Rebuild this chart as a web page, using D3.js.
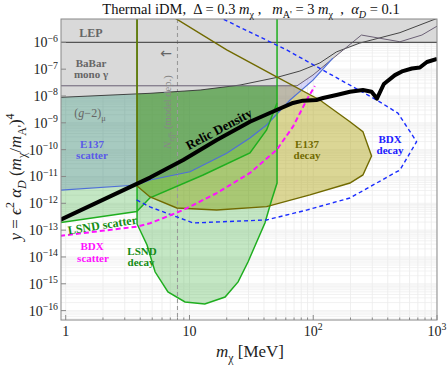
<!DOCTYPE html>
<html>
<head>
<meta charset="utf-8">
<script src="https://cdn.jsdelivr.net/npm/d3@7"></script>
<style>
  body { margin: 0; background: #fff; }
  svg { font-family: "Liberation Serif", "DejaVu Serif", serif; }
  text { white-space: pre; }
</style>
</head>
<body>
<svg id="chart" width="447" height="365"></svg>
<script>
// ---- data (mass in MeV, y = eps^2 alpha_D (m_chi/m_A')^4) ----
const xTicks = [1, 10, 100, 1000];
const xTickExp = ['', '', '2', '3'];
const yTicks = [1e-6, 1e-7, 1e-8, 1e-9, 1e-10, 1e-11, 1e-12, 1e-13, 1e-14, 1e-15, 1e-16];
const yTickExp = ['−6', '−7', '−8', '−9', '−10', '−11', '−12', '−13', '−14', '−15', '−16'];

const relic = [[0.9, 2.4e-13], [4.8, 9.1e-12], [8.9, 4.1e-11], [16.6, 2.3e-10], [30.8, 1.1e-9],
  [50.6, 3.0e-9], [68.6, 5.5e-9], [82.6, 6.7e-9], [106, 7.1e-9], [120, 8.4e-9], [154, 1.09e-8],
  [198, 1.44e-8], [252, 1.67e-8], [296, 1.44e-8], [327, 8.0e-9], [372, 2.8e-8], [457, 6.0e-8],
  [530, 8.5e-8], [627, 1.06e-7], [727, 1.15e-7], [829, 1.85e-7], [1000, 2.4e-7]];

const e137Scatter = [[0.9, 3.1e-12], [3.77, 4.8e-12], [4.8, 7.4e-12], [10.1, 1.5e-11], [20, 7.3e-11],
  [30.8, 2.7e-10], [42, 8.3e-10], [65, 7.1e-9], [99.5, 3.9e-8], [144, 2.6e-7]];

const lsndScatter = [[0.9, 1.9e-13], [3.75, 4.9e-13], [4.8, 1.6e-12], [12.9, 1.14e-11], [30.8, 7.5e-11],
  [42, 5.4e-10], [51, 5.5e-9]];

const lsndDecay = [[3.77, 1e-5], [51, 1e-5], [51, 5.7e-12], [46.1, 1.33e-12], [40.7, 1.85e-13],
  [34.9, 3.6e-14], [29.7, 6.5e-15], [24.7, 1.18e-15], [19.4, 3.2e-16], [13.3, 1.78e-16], [9.2, 2.1e-16],
  [6.7, 5.0e-16], [5.27, 2.8e-15], [4.54, 2.8e-14], [3.77, 1.7e-13]];

const e137Decay = [[3.77, 1e-5], [3.77, 4.4e-12], [4.8, 1.72e-12], [7.9, 6.7e-13], [16.6, 5.6e-13],
  [42, 7.5e-13], [94, 2.05e-12], [198, 5.7e-12], [252, 1.14e-11], [296, 5.8e-11], [252, 4.7e-10],
  [198, 1.1e-9], [113, 7.1e-9], [50.6, 5.2e-8], [20, 5.2e-7], [7.64, 8.0e-6], [7.1, 1e-5]];

const bdxDecay = [[3.74, 1.33e-12], [4.8, 7.3e-13], [10.7, 1.85e-13], [42, 2.4e-13], [88.5, 5.6e-13],
  [198, 1.58e-12], [502, 1.75e-11], [684, 1.98e-10], [483, 2.3e-9], [325, 7.1e-9], [61, 5.2e-7],
  [18.2, 7.8e-6], [17, 1e-5]];

const bdxScatter = [[0.9, 6.1e-14], [3.75, 1.35e-13], [4.8, 1.8e-13], [8.9, 5.6e-13], [16.6, 2.4e-12],
  [30.8, 1.35e-11], [50.6, 9.7e-11], [68.6, 7.2e-10], [88.5, 7.1e-9], [103, 2.35e-8]];

const g2Curve = [[0.9, 8.9e-9], [4.8, 1.26e-8], [12.2, 1.67e-8], [25.6, 2.56e-8], [50.6, 4.9e-8],
  [78, 8.5e-8], [113, 1.7e-7], [154, 4.4e-7], [238, 9.4e-7], [502, 2.3e-6], [1000, 7.8e-6]];

const babar = [[0.9, 2.4e-8], [74, 2.4e-8], [99.5, 6.05e-8], [144, 2.5e-7], [245, 1.87e-6],
  [502, 1.05e-6], [755, 1.87e-6], [1000, 4.0e-6]];

const lepLimit = 1e-6;
const neffMass = 8;
const TOP = 1e-5, LEFT = 0.9, RIGHT = 1000;

// ---- setup ----
const L = 61, R = 437, T = 19, B = 320;
const x = d3.scaleLog().domain([0.916, 1000]).range([L, R]);
const y = d3.scaleLog().domain([4.47e-17, 7.41e-6]).range([B, T]);
const svg = d3.select('#chart');

svg.append('defs').append('clipPath').attr('id', 'clip')
  .append('rect').attr('x', L).attr('y', T).attr('width', R - L).attr('height', B - T);

const line = d3.line().x(d => x(d[0])).y(d => y(d[1]));
const closeTop = pts => pts.concat([[pts[pts.length - 1][0], TOP], [LEFT, TOP]]);

const plot = svg.append('g').attr('clip-path', 'url(#clip)');

// grid
const gx = [], gy = [];
for (let d = 1; d <= 1000; d *= 10) for (let m = 1; m < 10; m++) gx.push(m * d);
for (let e = -17; e <= -6; e++) for (let m = 1; m < 10; m++) gy.push(m * Math.pow(10, e));
plot.selectAll('.gx').data(gx).enter().append('line')
  .attr('x1', d => x(d)).attr('x2', d => x(d)).attr('y1', T).attr('y2', B)
  .attr('stroke', '#e8e8e8').attr('stroke-width', 0.7);
plot.selectAll('.gy').data(gy).enter().append('line')
  .attr('y1', d => y(d)).attr('y2', d => y(d)).attr('x1', L).attr('x2', R)
  .attr('stroke', '#ededed').attr('stroke-width', 0.7);

// translucent fills (olive underneath so overlaps read green)
plot.append('path').attr('d', line(e137Decay) + 'Z')
  .attr('fill', 'rgb(175,165,20)').attr('fill-opacity', 0.45);
plot.append('path').attr('d', line(closeTop(e137Scatter)) + 'Z')
  .attr('fill', 'rgb(100,100,235)').attr('fill-opacity', 0.25);
plot.append('path').attr('d', line(closeTop(lsndScatter)) + 'Z')
  .attr('fill', 'rgb(20,160,20)').attr('fill-opacity', 0.25);
plot.append('path').attr('d', line(lsndDecay) + 'Z')
  .attr('fill', 'rgb(20,160,20)').attr('fill-opacity', 0.25);

// gray excluded regions
plot.append('path').attr('d', line(closeTop(g2Curve)) + 'Z').attr('fill', '#d9d9d9');
plot.append('path').attr('d', line(closeTop(babar)) + 'Z').attr('fill', '#d9d9d9');
plot.append('path').attr('d', line([[LEFT, lepLimit], [RIGHT, lepLimit], [RIGHT, TOP], [LEFT, TOP]]) + 'Z')
  .attr('fill', '#d9d9d9');

// lines
plot.append('line').attr('x1', x(neffMass)).attr('x2', x(neffMass)).attr('y1', T).attr('y2', B)
  .attr('stroke', '#999').attr('stroke-width', 1.1).attr('stroke-dasharray', '4,3');
plot.append('path').attr('d', line(g2Curve)).attr('fill', 'none').attr('stroke', '#333').attr('stroke-width', 0.9);
plot.append('path').attr('d', line(babar)).attr('fill', 'none').attr('stroke', '#6b6075').attr('stroke-width', 1);
plot.append('path').attr('d', line([[LEFT, lepLimit], [RIGHT, lepLimit]])).attr('stroke', '#555').attr('stroke-width', 1.1);
plot.append('path').attr('d', line(e137Scatter)).attr('fill', 'none').attr('stroke', '#4f6fd8').attr('stroke-width', 1.2);
plot.append('path').attr('d', line(lsndScatter)).attr('fill', 'none').attr('stroke', '#1fae1f').attr('stroke-width', 1.5);
plot.append('path').attr('d', line(lsndDecay) + 'Z').attr('fill', 'none').attr('stroke', '#1fae1f').attr('stroke-width', 1.5);
plot.append('path').attr('d', line(e137Decay) + 'Z').attr('fill', 'none').attr('stroke', '#716a00').attr('stroke-width', 1.4);
plot.append('path').attr('d', line(bdxDecay)).attr('fill', 'none').attr('stroke', '#1a2cff')
  .attr('stroke-width', 1.4).attr('stroke-dasharray', '4,3');
plot.append('path').attr('d', line(bdxScatter)).attr('fill', 'none').attr('stroke', '#ff10ff')
  .attr('stroke-width', 2).attr('stroke-dasharray', '5,3');
plot.append('path').attr('d', line(relic)).attr('fill', 'none').attr('stroke', '#000')
  .attr('stroke-width', 4).attr('stroke-linejoin', 'round');

// frame
svg.append('rect').attr('x', L).attr('y', T).attr('width', R - L).attr('height', B - T)
  .attr('fill', 'none').attr('stroke', '#888').attr('stroke-width', 1);

// ticks (inward)
const minorX = gx.filter(d => d >= 1 && d <= 1000);
svg.selectAll('.tx').data(minorX).enter().append('line')
  .attr('x1', d => x(d)).attr('x2', d => x(d)).attr('y1', B)
  .attr('y2', d => B - (xTicks.includes(d) ? 5 : 2.5)).attr('stroke', '#888');
svg.selectAll('.ty').data(yTicks).enter().append('line')
  .attr('y1', d => y(d)).attr('y2', d => y(d)).attr('x1', L).attr('x2', L + 5).attr('stroke', '#888');

// rich text helper: parts = [text, opts]
function rich(sel, parts, size) {
  let shift = 0;
  parts.forEach(p => {
    const o = p[1] || {};
    const target = o.sub ? size * 0.3 : o.sup ? -size * 0.4 : 0;
    const ts = sel.append('tspan').text(p[0]).attr('dy', target - shift);
    shift = target;
    if (o.sub || o.sup) ts.attr('font-size', size * 0.7);
    if (o.it) ts.attr('font-style', 'italic');
  });
  return sel;
}

// tick labels
xTicks.forEach((v, i) => {
  const t = svg.append('text').attr('x', x(v)).attr('y', 336).attr('text-anchor', 'middle')
    .attr('font-size', 14).attr('fill', '#222');
  if (v === 1) rich(t, [['1']], 14);
  else if (v === 10) rich(t, [['10']], 14);
  else rich(t, [['10'], [xTickExp[i], {sup: true}]], 14);
});
yTicks.forEach((v, i) => {
  const t = svg.append('text').attr('x', 58).attr('y', y(v) + 5).attr('text-anchor', 'end')
    .attr('font-size', 14).attr('fill', '#222');
  rich(t, [['10'], [yTickExp[i], {sup: true}]], 14);
});

// titles
rich(svg.append('text').attr('x', 251).attr('y', 14).attr('text-anchor', 'middle')
  .attr('font-size', 14.5).attr('fill', '#111'),
  [['Thermal iDM,  Δ = 0.3 '], ['m', {it: true}], ['χ', {sub: true}], [' ,   '], ['m', {it: true}],
   ['A\'', {sub: true}], [' = 3 '], ['m', {it: true}], ['χ', {sub: true}], ['  ,  '], ['α', {it: true}],
   ['D', {sub: true, it: true}], [' = 0.1']], 14.5);

rich(svg.append('text').attr('x', 250).attr('y', 357).attr('text-anchor', 'middle')
  .attr('font-size', 17).attr('fill', '#222'),
  [['m', {it: true}], ['χ', {sub: true}], [' [MeV]']], 17);

rich(svg.append('text').attr('transform', 'translate(21,177) rotate(-90)').attr('text-anchor', 'middle')
  .attr('font-size', 17).attr('fill', '#222'),
  [['y', {it: true}], [' = '], ['ϵ', {it: true}], ['2', {sup: true}], [' '], ['α', {it: true}],
   ['D', {sub: true, it: true}], [' ('], ['m', {it: true}], ['χ', {sub: true}], ['/'], ['m', {it: true}],
   ['A\'', {sub: true}], [')'], ['4', {sup: true}]], 17);

// region labels
function label(txt, px, py, color, size, weight) {
  return svg.append('text').attr('x', px).attr('y', py).attr('text-anchor', 'middle')
    .attr('font-size', size || 11).attr('font-weight', weight || 'bold').attr('fill', color).text(txt);
}
label('LEP', 91, 37, '#666', 12);
label('BaBar', 91, 67, '#666');
label('mono γ', 91, 78, '#666');
rich(svg.append('text').attr('x', 90).attr('y', 117).attr('text-anchor', 'middle')
  .attr('font-size', 12).attr('fill', '#666'),
  [['('], ['g', {it: true}], ['−2)'], ['μ', {sub: true}]], 12);
label('E137', 92, 148, '#5a5ae8');
label('scatter', 92, 159, '#5a5ae8');
label('E137', 307, 148, '#716a00');
label('decay', 307, 159, '#716a00');
label('BDX', 390, 143, '#2020ff');
label('decay', 390, 154, '#2020ff');
label('BDX', 92, 250, '#ff10ff');
label('scatter', 93, 262, '#ff10ff');
label('LSND', 142, 255, '#148c14');
label('decay', 141, 266, '#148c14');
svg.append('text').attr('transform', 'translate(103,229) rotate(-9)').attr('text-anchor', 'middle')
  .attr('font-size', 12).attr('font-weight', 'bold').attr('fill', '#148c14').text('LSND scatter');
svg.append('text').attr('transform', 'translate(221,133) rotate(-28)').attr('text-anchor', 'middle')
  .attr('font-size', 13).attr('font-weight', 'bold').attr('fill', '#000').text('Relic Density');
rich(svg.append('text').attr('transform', 'translate(171,112) rotate(-90)').attr('text-anchor', 'middle')
  .attr('font-size', 10.5).attr('fill', '#888'),
  [['N', {it: true}], ['eff', {sub: true, it: true}], [', (model dep.)']], 10.5);
svg.append('text').attr('x', 166).attr('y', 58).attr('text-anchor', 'middle')
  .attr('font-size', 14).attr('fill', '#666').attr('font-family', 'DejaVu Sans').text('←');
</script>
</body>
</html>
